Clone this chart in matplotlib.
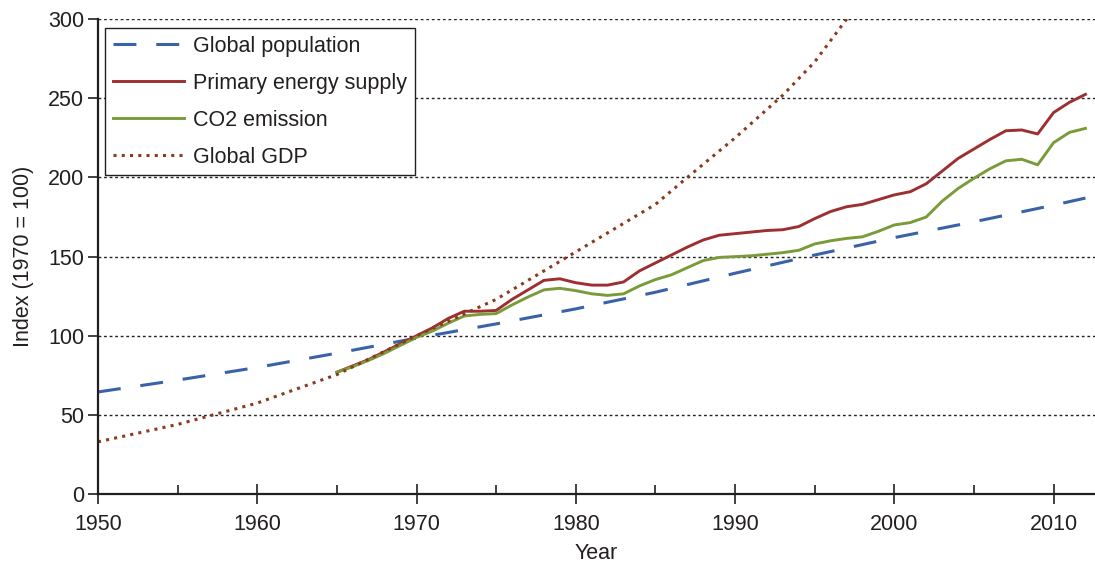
import numpy as np
import matplotlib.pyplot as plt
from matplotlib.ticker import MultipleLocator

plt.rcParams['font.family'] = ['Liberation Sans', 'DejaVu Sans']

# global population, index 1970 = 100
pop_years = [1950, 1955, 1960, 1965, 1970, 1975, 1980, 1985, 1990, 1995, 2000, 2005, 2010, 2012]
pop = [64.5, 72, 80, 89, 98.5, 107.5, 117, 127.5, 139.5, 151, 162, 172, 182.5, 187]

# global GDP
gdp_years = [1950, 1955, 1960, 1965, 1970, 1975, 1980, 1985, 1987, 1990, 1993, 1995, 1997, 1998]
gdp = [33, 44, 57.5, 75.5, 100, 123, 153, 183, 200, 225, 252, 273, 300, 313]

# primary energy supply and CO2 emission, 1965-2012
years = list(range(1965, 2013))
energy = [77, 81, 85, 90, 95, 100, 105, 111, 115.5, 115.5,
          116, 123, 129, 135, 136, 133.5, 132, 132, 134, 141,
          146, 151, 156, 160.5, 163.5, 164.5, 165.5, 166.5, 167, 169,
          174, 178.5, 181.5, 183, 186, 189, 191, 196, 204, 212,
          218, 224, 229.5, 230, 227.5, 241, 247.5, 252.5]
co2 = [77, 80.5, 84.5, 89, 94, 99, 103, 108, 112.5, 113.5,
       114, 119.5, 124.5, 129, 130, 128.5, 126.5, 125.5, 126.5, 131.5,
       135.5, 138.5, 143, 147.5, 149.5, 150, 150.5, 151.5, 152.5, 154,
       158, 160, 161.5, 162.5, 166, 170, 171.5, 175, 185, 193,
       199.5, 205.5, 210.5, 211.5, 208, 222, 228.5, 231]

ink = '#231f20'
fs = 15.5

fig = plt.figure(figsize=(10.95, 5.64), dpi=100)
ax = fig.add_axes([0.0895, 0.124, 0.9105, 0.842])

ax.plot(pop_years, pop, color='#3a62a8', lw=2.2, ls=(0, (7.5, 6.5)), label='Global population')
ax.plot(years, energy, color='#9e2f30', lw=2.1, label='Primary energy supply')
ax.plot(years, co2, color='#7a9b3a', lw=2.1, label='CO2 emission')
ax.plot(gdp_years, gdp, color='#8b3a1e', lw=2.2, ls=(0, (1, 1.7)), label='Global GDP')

ax.set_xlim(1950, 2012.6)
ax.set_ylim(0, 300)
ax.xaxis.set_major_locator(MultipleLocator(10))
ax.xaxis.set_minor_locator(MultipleLocator(5))
ax.yaxis.set_major_locator(MultipleLocator(50))

for y in range(50, 301, 50):
    ax.axhline(y, color='#222222', lw=1.0, ls=(0, (2, 2)), zorder=0)

for s in ['top', 'right']:
    ax.spines[s].set_visible(False)
for s in ['left', 'bottom']:
    ax.spines[s].set_color(ink)
    ax.spines[s].set_linewidth(1.6)

ax.tick_params(axis='x', which='major', direction='inout', length=14, width=1.2,
               color=ink, labelcolor=ink, labelsize=fs, pad=7)
ax.tick_params(axis='x', which='minor', direction='in', length=6.5, width=1.2, color=ink)
ax.tick_params(axis='y', which='major', direction='out', length=7, width=1.2,
               color=ink, labelcolor=ink, labelsize=fs, pad=3)

ax.set_xlabel('Year', fontsize=fs, color=ink, labelpad=6)
ax.set_ylabel('Index (1970 = 100)', fontsize=fs, color=ink, labelpad=10)

leg = ax.legend(loc='upper left', bbox_to_anchor=(0.007, 0.981), borderaxespad=0,
                fontsize=fs, handlelength=3.3, handletextpad=0.45, labelspacing=0.74,
                borderpad=0.35, fancybox=False, framealpha=1)
leg.get_frame().set_edgecolor(ink)
leg.get_frame().set_linewidth(1.0)
for t in leg.get_texts():
    t.set_color(ink)

fig.savefig('out.png', dpi=100)
